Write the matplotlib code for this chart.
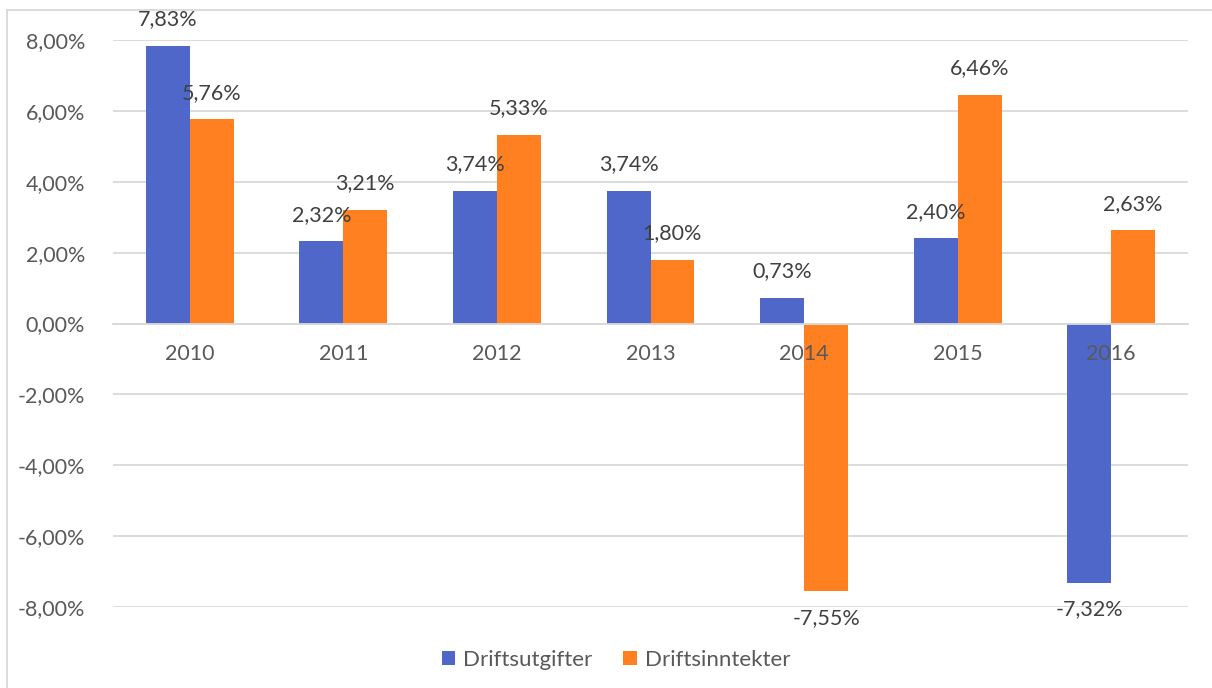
import matplotlib
matplotlib.use("Agg")
import matplotlib.pyplot as plt
import numpy as np
from matplotlib.lines import Line2D
from matplotlib.ticker import FuncFormatter

years = ["2010", "2011", "2012", "2013", "2014", "2015", "2016"]
driftsutgifter = [7.83, 2.32, 3.74, 3.74, 0.73, 2.40, -7.32]
driftsinntekter = [5.76, 3.21, 5.33, 1.80, -7.55, 6.46, 2.63]

BLUE = "#4E67C8"
ORANGE = "#FF8021"
TEXT = "#595959"
GRID = "#D9D9D9"

plt.rcParams["font.family"] = ["Lato", "DejaVu Sans"]


def pct(v):
    return f"{v:.2f}".replace(".", ",") + "%"


fig = plt.figure(figsize=(12.12, 6.88), dpi=100)
ax = fig.add_axes([113 / 1212, 81 / 688, 1075 / 1212, 567 / 688])

x = np.arange(len(years))
w = 1 / 3.5
b1 = ax.bar(x - w / 2, driftsutgifter, w, color=BLUE, label="Driftsutgifter")
b2 = ax.bar(x + w / 2, driftsinntekter, w, color=ORANGE, label="Driftsinntekter")

for bars, vals in ((b1, driftsutgifter), (b2, driftsinntekter)):
    for bar, v in zip(bars, vals):
        cx = bar.get_x() + bar.get_width() / 2
        off = 12 if v >= 0 else -12
        ax.annotate(pct(v), (cx, v), xytext=(0, off), textcoords="offset points",
                    ha="center", va="bottom" if v >= 0 else "top",
                    fontsize=15.5, color="#404040")

ax.set_xlim(-0.5, len(years) - 0.5)
ax.set_ylim(-8, 8)
ax.set_yticks(np.arange(-8, 9, 2))
ax.yaxis.set_major_formatter(FuncFormatter(lambda v, _: pct(v)))
ax.grid(axis="y", color=GRID, linewidth=1.3)
ax.set_axisbelow(True)
ax.set_xticks([])
ax.tick_params(length=0, labelsize=15.5, labelcolor=TEXT)
ax.tick_params(axis="y", pad=20)
for s in ("top", "right", "left"):
    ax.spines[s].set_visible(False)
ax.spines["bottom"].set_position(("data", 0))
ax.spines["bottom"].set_color(GRID)
ax.spines["bottom"].set_linewidth(1.3)

# category labels sit on the zero line and are drawn over the bars
for xi, yr in zip(x, years):
    ax.annotate(yr, (xi, 0), xytext=(0, -15), textcoords="offset points",
                ha="center", va="top", fontsize=15.5, color=TEXT, zorder=5)

# chart area border (top and left edges visible in the crop)
fig.add_artist(Line2D([7 / 1212, 1], [1 - 10 / 688, 1 - 10 / 688], color=GRID, lw=1.3))
fig.add_artist(Line2D([7 / 1212, 7 / 1212], [0, 1 - 10 / 688], color=GRID, lw=1.3))

fig.legend(loc="center", bbox_to_anchor=(616 / 1212, 28 / 688), ncol=2, frameon=False,
           fontsize=16, labelcolor=TEXT, handlelength=0.6, handleheight=0.6,
           handletextpad=0.35, columnspacing=1.4)

fig.savefig("out.png", dpi=100)
